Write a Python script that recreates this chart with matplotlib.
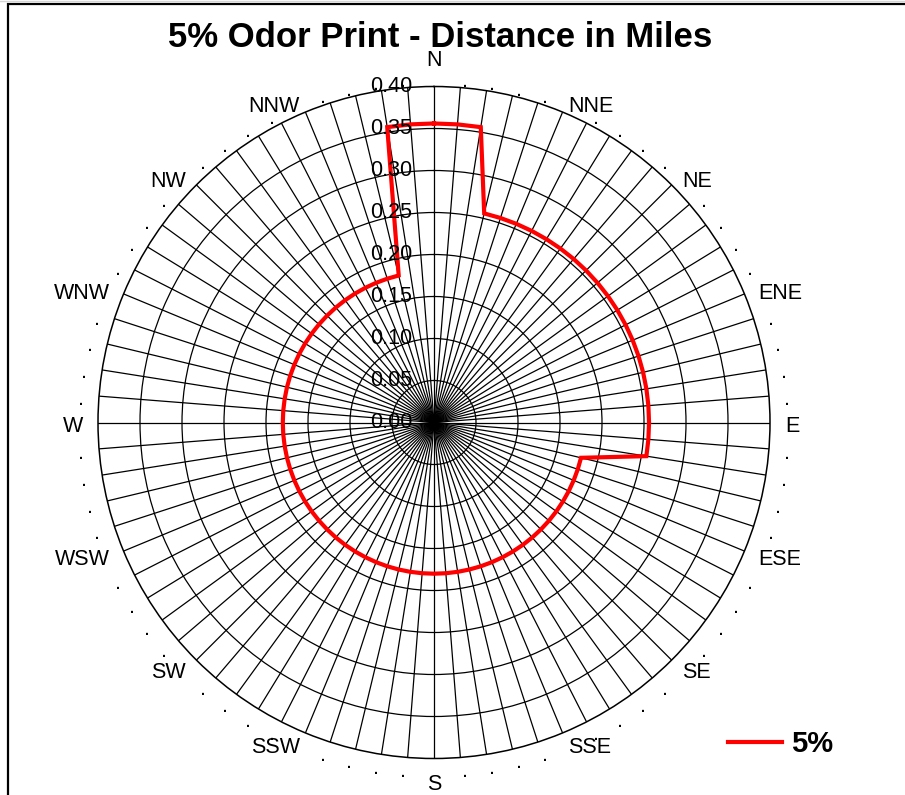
import numpy as np
import matplotlib
matplotlib.use("Agg")
import matplotlib.pyplot as plt
from matplotlib.lines import Line2D
from matplotlib.patches import Rectangle

plt.rcParams['font.family'] = ['Liberation Sans', 'DejaVu Sans']

# 80 direction sectors (4.5 degrees each), clockwise from North
compass = ["N", "NNE", "NE", "ENE", "E", "ESE", "SE", "SSE",
           "S", "SSW", "SW", "WSW", "W", "WNW", "NW", "NNW"]
sector_labels = []
for name in compass:
    sector_labels += [name, ".", ".", ".", "."]

# odor print distance (miles) per sector
distance_5pct = [
    0.356, 0.356, 0.356,
    0.256, 0.256, 0.256, 0.256, 0.256, 0.256, 0.256, 0.256, 0.256, 0.256,
    0.256, 0.256, 0.256, 0.256, 0.256, 0.256, 0.256, 0.256, 0.256, 0.256,
    0.180, 0.180, 0.180, 0.180, 0.180, 0.180, 0.180, 0.180, 0.180, 0.180,
    0.180, 0.180, 0.180, 0.180, 0.180, 0.180, 0.180, 0.180, 0.180, 0.180,
    0.180, 0.180, 0.180, 0.180, 0.180, 0.180, 0.180, 0.180, 0.180, 0.180,
    0.180, 0.180, 0.180, 0.180, 0.180, 0.180, 0.180, 0.180, 0.180, 0.180,
    0.180, 0.180, 0.180, 0.180, 0.180, 0.180, 0.180, 0.180, 0.180, 0.180,
    0.180, 0.180, 0.180, 0.180, 0.180,
    0.356, 0.356,
]
radial_ticks = [0.00, 0.05, 0.10, 0.15, 0.20, 0.25, 0.30, 0.35, 0.40]
series_name = "5%"
title = "5% Odor Print - Distance in Miles"

W, H = 905, 795
fig = plt.figure(figsize=(W / 100, H / 100), dpi=100)

cx, cy, R = 434, 422.5, 336
ax = fig.add_axes([(cx - R) / W, (H - cy - R) / H, 2 * R / W, 2 * R / H],
                  projection="polar")
ax.set_theta_zero_location("N")
ax.set_theta_direction(-1)

n = len(sector_labels)
theta = np.arange(n) * 2 * np.pi / n
rmax = radial_ticks[-1]
ax.set_ylim(0, rmax)

ax.set_xticks(theta)
ax.set_xticklabels([])
ax.set_yticks(radial_ticks[1:-1])
ax.set_yticklabels([])
ax.tick_params(length=0)
ax.grid(True, color="black", linewidth=0.9)
ax.spines["polar"].set_color("black")
ax.spines["polar"].set_linewidth(1.1)

# closed series outline
t_closed = np.append(theta, theta[0])
r_closed = np.append(distance_5pct, distance_5pct[0])
ax.plot(t_closed, r_closed, color="#ff0000", linewidth=3.0, zorder=5,
        solid_joinstyle="miter")

# direction labels and sector dots around the rim
label_fs = 15.5
gap = 15  # px beyond the outer ring
for t, lab in zip(theta, sector_labels):
    s, c = np.sin(t), np.cos(t)
    if abs(s) < 1e-9:
        # N and S sit centred above / below the ring
        sign = 1 if c > 0 else -1
        ax.annotate(lab, xy=(t, rmax), xytext=(0, sign * 16),
                    textcoords="offset pixels", ha="center",
                    va="bottom" if sign > 0 else "top",
                    fontsize=label_fs, annotation_clip=False)
        continue
    ha = "left" if s > 0 else "right"
    if lab == ".":
        down = 9.5 + 5 * c
    else:
        down = 9.7 + 4 * c
    ax.annotate(lab, xy=(t, rmax), xytext=(gap * s, gap * c - down),
                textcoords="offset pixels", ha=ha, va="baseline",
                fontsize=label_fs, annotation_clip=False)

# radial value labels along the north spoke
for r in radial_ticks:
    ax.annotate(f"{r:.2f}", xy=(0, r), xytext=(-22, 0),
                textcoords="offset pixels", ha="right", va="center",
                fontsize=label_fs, color="black", zorder=6,
                annotation_clip=False)

fig.text(440 / W, (H - 47) / H, title, ha="center", va="baseline",
         fontsize=25, fontweight="bold")

handle = Line2D([], [], color="#ff0000", linewidth=3.0)
fig.legend([handle], [series_name], loc="center left",
           bbox_to_anchor=(728 / W, (H - 744) / H), frameon=False,
           borderpad=0, borderaxespad=0, handlelength=1.85,
           handletextpad=0.3,
           prop={"weight": "bold", "size": 21})

# chart area border
fig.patches.append(Rectangle((8 / W, -0.1), 1.2, (H - 4) / H + 0.1,
                             transform=fig.transFigure, fill=False,
                             edgecolor="black", linewidth=1.6))
fig.add_artist(Line2D([0, 1], [(H - 1) / H, (H - 1) / H],
                      transform=fig.transFigure, color="#d4d4d4",
                      linewidth=1.0))

fig.savefig("out.png", dpi=100)
